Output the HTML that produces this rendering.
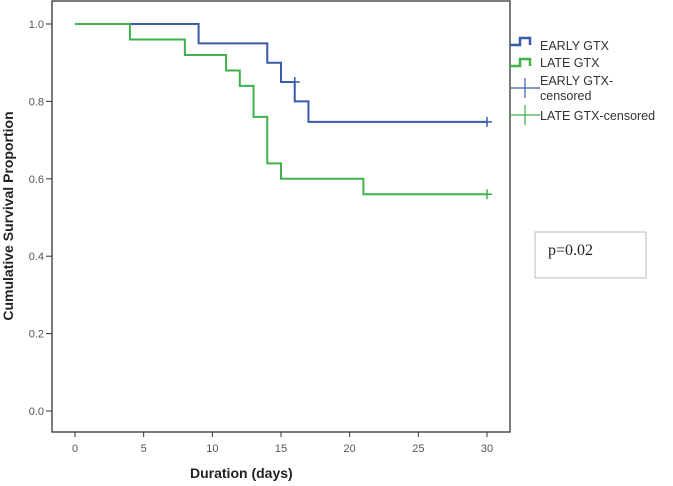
<!DOCTYPE html>
<html><head><meta charset="utf-8"><style>
body{margin:0;background:#fff;}
svg{display:block;font-family:"Liberation Sans",sans-serif;}
</style></head><body>
<svg id="chart" width="673" height="486">
<rect x="52" y="1" width="458" height="431" fill="#fff" stroke="#333" stroke-width="1.3"/>
<g id="axes"></g>
<g id="series"></g>
<text x="190" y="478" font-size="14" font-weight="bold" fill="#222">Duration (days)</text>
<text transform="translate(13,216) rotate(-90)" text-anchor="middle" font-size="14" font-weight="bold" fill="#222">Cumulative Survival Proportion</text>
<g font-size="12.5" fill="#333">
<path d="M510,45 h10 v-7 h10 v7" fill="none" stroke="#3a5ba8" stroke-width="2.5"/>
<text x="540" y="50">EARLY GTX</text>
<path d="M510,66 h10 v-7 h10 v7" fill="none" stroke="#3db34a" stroke-width="2.5"/>
<text x="540" y="67">LATE GTX</text>
<path d="M510,88 h30 M525,78 v20" stroke="#3a5ba8" stroke-width="1.2"/>
<text x="540" y="85">EARLY GTX-</text>
<text x="540" y="100">censored</text>
<path d="M510,115 h30 M525,105 v20" stroke="#3db34a" stroke-width="1.2"/>
<text x="540" y="120">LATE GTX-censored</text>
</g>
<rect x="535" y="232" width="111" height="46" fill="#fff" stroke="#bbb"/>
<text x="548" y="255" font-family="Liberation Serif,serif" font-size="16" fill="#222">p=0.02</text>
</svg>
<script>
const xTicks=[0,5,10,15,20,25,30];
const yTicks=[0,0.2,0.4,0.6,0.8,1.0];
const earlyTimes=[0,9,14,15,16,17,30];
const earlySurv=[1.0,0.95,0.90,0.85,0.80,0.747,0.747];
const earlyCensor=[16,30];
const lateTimes=[0,4,8,11,12,13,14,15,21,30];
const lateSurv=[1.0,0.96,0.92,0.88,0.84,0.76,0.64,0.60,0.56,0.56];
const lateCensor=[30];
const X=t=>75+t*(487-75)/30;
const Y=v=>411-v*(411-24);
const NS='http://www.w3.org/2000/svg';
const axes=document.getElementById('axes'),ser=document.getElementById('series');
function mk(tag,attrs,parent){const e=document.createElementNS(NS,tag);for(const k in attrs)e.setAttribute(k,attrs[k]);parent.appendChild(e);return e;}
xTicks.forEach(t=>{
 const l=mk('line',{x1:X(t),x2:X(t),y1:432,y2:437,stroke:'#333'},axes);
 
 
 const tx=mk('text',{x:X(t),y:452,'text-anchor':'middle','font-size':'11',fill:'#555'},axes);
 tx.textContent=t;
 
 
});
yTicks.forEach(v=>{
 const l=mk('line',{x1:46,x2:52,y1:Y(v),y2:Y(v),stroke:'#333'},axes);
 
 
 const tx=mk('text',{x:44,y:Y(v)+4,'text-anchor':'end','font-size':'11',fill:'#555'},axes);
 tx.textContent=v.toFixed(1);
 
 
});
function stepPath(ts,ss){let d='M'+X(ts[0])+','+Y(ss[0]);for(let i=1;i<ts.length;i++){d+=' H'+X(ts[i])+' V'+Y(ss[i]);}return d;}
function survAt(ts,ss,t){let v=ss[0];for(let i=0;i<ts.length;i++)if(ts[i]<=t)v=ss[i];return v;}
function draw(ts,ss,cens,color,name){
 const p=mk('path',{d:stepPath(ts,ss),fill:'none',stroke:color,'stroke-width':2},ser);
 
 
 cens.forEach(t=>{
  const v=(t===ts[ts.length-1])?ss[ss.length-1]:survAt(ts,ss,t-0.001);
  const c=mk('path',{d:'M'+(X(t)-5)+','+Y(v)+' h10 M'+X(t)+','+(Y(v)-5)+' v10',stroke:color,'stroke-width':1.5},ser);
  
  
 });
}
draw(earlyTimes,earlySurv,earlyCensor,'#3a5ba8','early-gtx');
draw(lateTimes,lateSurv,lateCensor,'#3db34a','late-gtx');
</script>
</body></html>
